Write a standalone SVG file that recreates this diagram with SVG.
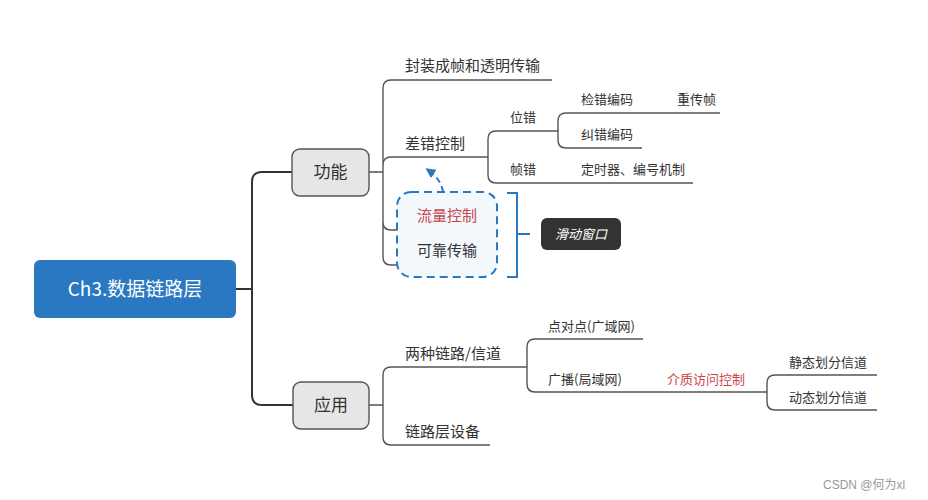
<svg xmlns="http://www.w3.org/2000/svg" width="928" height="500" viewBox="0 0 928 500">
<defs>
<style>
.t{font-family:"Noto Sans CJK SC","Noto Sans",sans-serif;fill:#333;}
.l{fill:none;stroke:#555;stroke-width:1.4;}
.main{fill:none;stroke:#333;stroke-width:2;}
.box{fill:#e6e6e6;stroke:#555;stroke-width:1.4;}
.red{fill:#c9474b;}
</style>
<marker id="ah" viewBox="0 0 10 10" refX="7" refY="5" markerWidth="5" markerHeight="5" orient="auto" markerUnits="strokeWidth">
<path d="M0,0 L10,5 L0,10 Z" fill="#2b78c2"/>
</marker>
</defs>
<rect width="928" height="500" fill="#fff"/>
<g id="connectors">
<path class="main" d="M236,289 H252 M252,289 V182 Q252,172 262,172 H292 M252,289 V395 Q252,405 262,405 H293"/>
<path class="l" d="M369,172 H383 M383,172 V88 Q383,80 391,80 H552 M383,172 V165 Q383,157 391,157 H488 M383,172 V222 Q383,230 391,230 H486 M383,172 V257 Q383,265 391,265 H486"/>
<path class="l" d="M488,157 V139 Q488,131 496,131 H558 M488,157 V175 Q488,183 496,183 H693"/>
<path class="l" d="M558,131 V121 Q558,113 566,113 H720 M558,131 V140 Q558,148 566,148 H642"/>
<path class="l" d="M369,405 H383 M383,405 V375 Q383,367 391,367 H527 M383,405 V437 Q383,445 391,445 H490"/>
<path class="l" d="M527,367 V347 Q527,339 535,339 H643 M527,367 V384 Q527,392 535,392 H767"/>
<path class="l" d="M767,392 V383 Q767,375 775,375 H877 M767,392 V402 Q767,410 775,410 H877"/>
<path d="M443,192 Q441,179 428,170" fill="none" stroke="#2b78c2" stroke-width="2" stroke-dasharray="6,4" marker-end="url(#ah)"/>
<path d="M507,193 H517 V277 H507 M517,234 H530" fill="none" stroke="#2b78c2" stroke-width="2"/>
</g>
<g id="root">
<rect x="34" y="260" width="202" height="58" rx="6" fill="#2b78c2"/>
<text x="135" y="296" font-size="19" text-anchor="middle" class="t" style="fill:#fff">Ch3.数据链路层</text>
</g>
<g id="gongneng">
<rect class="box" x="292" y="149" width="77" height="47" rx="8"/>
<text x="330.5" y="178" font-size="17" text-anchor="middle" class="t">功能</text>
</g>
<g id="fengzhuang"><text x="405" y="71" font-size="15" class="t">封装成帧和透明传输</text></g>
<g id="chacuo"><text x="405" y="149" font-size="15" class="t">差错控制</text></g>
<g id="weicuo"><text x="510" y="122" font-size="13" class="t">位错</text></g>
<g id="jiancuo"><text x="581" y="104" font-size="13" class="t">检错编码</text></g>
<g id="chongchuan"><text x="677" y="104" font-size="13" class="t">重传帧</text></g>
<g id="jiucuo"><text x="581" y="139" font-size="13" class="t">纠错编码</text></g>
<g id="zhencuo"><text x="510" y="174" font-size="13" class="t">帧错</text></g>
<g id="dingshi"><text x="581" y="174" font-size="13" class="t">定时器、编号机制</text></g>
<g id="group-flow">
<rect x="397" y="192" width="100" height="85" rx="14" fill="#f3f8fd" stroke="#2b78c2" stroke-width="2" stroke-dasharray="8,5"/>
</g>
<g id="liuliang"><text x="417" y="221" font-size="15" class="t red">流量控制</text></g>
<g id="kekao"><text x="417" y="256" font-size="15" class="t">可靠传输</text></g>
<g id="huadong">
<rect x="541" y="218" width="80" height="32" rx="6" fill="#333"/>
<text x="581" y="239" font-size="13" text-anchor="middle" font-style="italic" class="t" style="fill:#fff">滑动窗口</text>
</g>
<g id="yingyong">
<rect class="box" x="293" y="382" width="76" height="47" rx="8"/>
<text x="331" y="411" font-size="17" text-anchor="middle" class="t">应用</text>
</g>
<g id="liangzhong"><text x="405" y="359" font-size="15" class="t">两种链路/信道</text></g>
<g id="lianluceng"><text x="405" y="437" font-size="15" class="t">链路层设备</text></g>
<g id="dianduidian"><text x="548" y="331" font-size="13" class="t">点对点(广域网)</text></g>
<g id="guangbo"><text x="548" y="384" font-size="13" class="t">广播(局域网)</text></g>
<g id="jiezhi"><text x="667" y="384" font-size="13" class="t red">介质访问控制</text></g>
<g id="jingtai"><text x="789" y="367" font-size="13" class="t">静态划分信道</text></g>
<g id="dongtai"><text x="789" y="402" font-size="13" class="t">动态划分信道</text></g>
<text x="823" y="489" font-size="12" style="font-family:'Liberation Sans','Noto Sans CJK SC',sans-serif;fill:#999">CSDN @何为xl</text>
</svg>
